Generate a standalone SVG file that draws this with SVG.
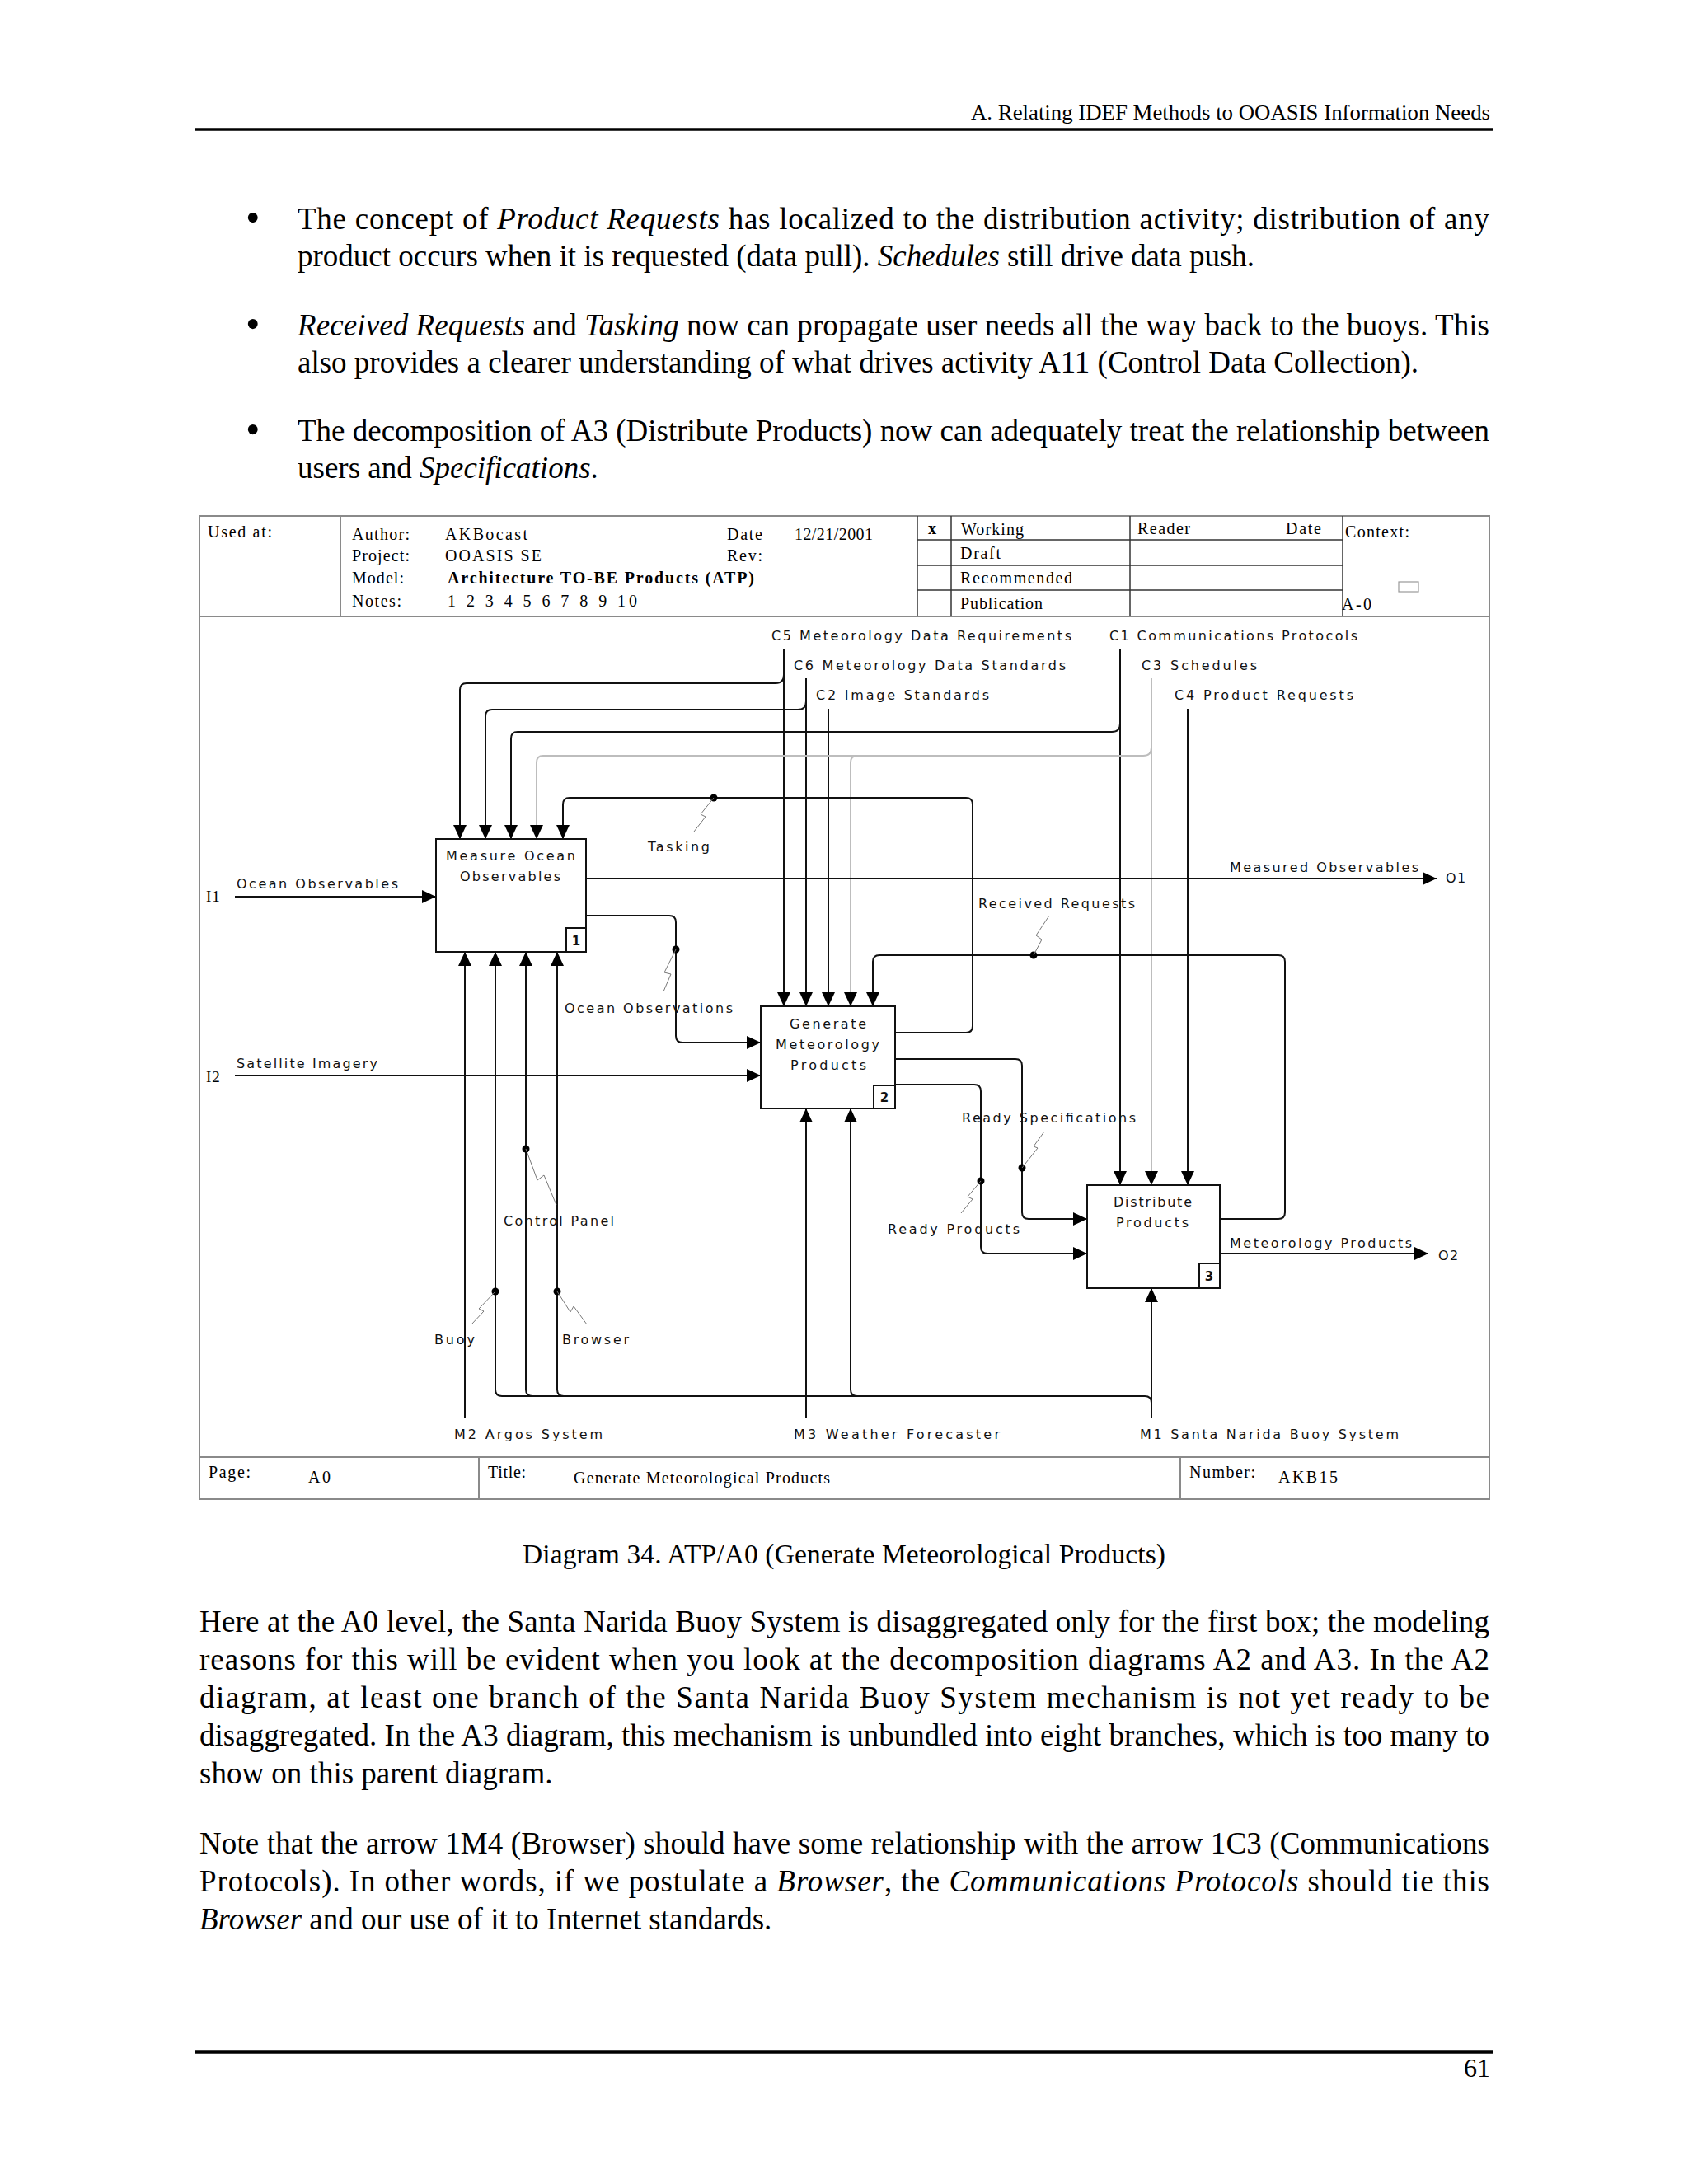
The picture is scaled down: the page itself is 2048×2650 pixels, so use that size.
<svg xmlns="http://www.w3.org/2000/svg" width="2048" height="2650" viewBox="0 0 2048 2650">
<style>
.s{font-family:"Liberation Serif","Times New Roman",serif;fill:#000}
.b{font-size:37px}
.tb{font-size:20px}
.l{font-family:"DejaVu Sans",Verdana,sans-serif;font-size:16px;fill:#111}
.n{font-family:"DejaVu Sans",Verdana,sans-serif;font-size:15px;font-weight:bold;fill:#111}
.c{fill:none;stroke:#111;stroke-width:2}
.g{fill:none;stroke:#bdbdbd;stroke-width:2}
.a{marker-end:url(#ah)}
.sq{fill:none;stroke:#777;stroke-width:1}
.box{fill:#fff;stroke:#111;stroke-width:2}
.fr{fill:none;stroke:#8a8a8a;stroke-width:2}
.gr{fill:none;stroke:#333;stroke-width:1.5}
</style>
<defs>
<marker id="ah" markerUnits="userSpaceOnUse" markerWidth="17" markerHeight="16" refX="17" refY="8" orient="auto"><path d="M0,0 L17,8 L0,16 z" fill="#000"/></marker>
</defs>
<rect width="2048" height="2650" fill="#fff"/>

<g id="page-header">
<text class="s" x="1178" y="145" font-size="26" textLength="630" lengthAdjust="spacingAndGlyphs">A. Relating IDEF Methods to OOASIS Information Needs</text>
<line x1="236" y1="157" x2="1812" y2="157" stroke="#000" stroke-width="3.5"/>
</g>

<g id="bullets" class="s b">
<text x="298" y="281" font-size="50">•</text>
<text x="361" y="278" textLength="1446">The concept of <tspan font-style="italic">Product Requests</tspan> has localized to the distribution activity; distribution of any</text>
<text x="361" y="323">product occurs when it is requested (data pull). <tspan font-style="italic">Schedules</tspan> still drive data push.</text>
<text x="298" y="410" font-size="50">•</text>
<text x="361" y="407" textLength="1446"><tspan font-style="italic">Received Requests</tspan> and <tspan font-style="italic">Tasking</tspan> now can propagate user needs all the way back to the buoys. This</text>
<text x="361" y="452">also provides a clearer understanding of what drives activity A11 (Control Data Collection).</text>
<text x="298" y="538" font-size="50">•</text>
<text x="361" y="535" textLength="1446">The decomposition of A3 (Distribute Products) now can adequately treat the relationship between</text>
<text x="361" y="580">users and <tspan font-style="italic">Specifications</tspan>.</text>
</g>

<g id="frame">
<rect class="fr" x="242" y="626" width="1565" height="1193"/>
<line class="fr" x1="242" y1="748" x2="1807" y2="748"/>
<line class="fr" x1="242" y1="1768" x2="1807" y2="1768"/>
<line class="fr" x1="413" y1="626" x2="413" y2="748"/>
<line class="gr" x1="1113" y1="626" x2="1113" y2="748"/>
<line class="gr" x1="1154" y1="626" x2="1154" y2="748"/>
<line class="gr" x1="1371" y1="626" x2="1371" y2="748"/>
<line class="gr" x1="1629" y1="626" x2="1629" y2="748"/>
<line class="gr" x1="1113" y1="655" x2="1629" y2="655"/>
<line class="gr" x1="1113" y1="686" x2="1629" y2="686"/>
<line class="gr" x1="1113" y1="716" x2="1629" y2="716"/>
<line class="fr" x1="581" y1="1768" x2="581" y2="1819"/>
<line class="fr" x1="1432" y1="1768" x2="1432" y2="1819"/>
<rect x="1697" y="706" width="24" height="12" fill="none" stroke="#999" stroke-width="1.2"/>
</g>

<g id="title-block" class="s tb">
<text x="252" y="652" textLength="78">Used at:</text>
<text x="427" y="655" textLength="70">Author:</text>
<text x="427" y="681" textLength="70">Project:</text>
<text x="427" y="708" textLength="63">Model:</text>
<text x="427" y="736" textLength="60">Notes:</text>
<text x="540" y="655" textLength="100">AKBocast</text>
<text x="540" y="681" textLength="117">OOASIS SE</text>
<text x="543" y="708" font-weight="bold" textLength="372">Architecture TO-BE Products (ATP)</text>
<text x="543" y="736" textLength="230">1 2 3 4 5 6 7 8 9 10</text>
<text x="882" y="655" textLength="43">Date</text>
<text x="882" y="681" textLength="43">Rev:</text>
<text x="964" y="655" textLength="95">12/21/2001</text>
<text x="1126" y="648" font-weight="bold">x</text>
<text x="1166" y="649" textLength="76">Working</text>
<text x="1165" y="678" textLength="49">Draft</text>
<text x="1165" y="708" textLength="136">Recommended</text>
<text x="1165" y="739" textLength="100">Publication</text>
<text x="1380" y="648" textLength="64">Reader</text>
<text x="1560" y="648" textLength="43">Date</text>
<text x="1632" y="652" textLength="78">Context:</text>
<text x="1628" y="740" textLength="36">A-0</text>
<text x="253" y="1793" textLength="51">Page:</text>
<text x="374" y="1799" textLength="27">A0</text>
<text x="592" y="1793" textLength="46">Title:</text>
<text x="696" y="1800" textLength="311">Generate Meteorological Products</text>
<text x="1443" y="1793" textLength="80">Number:</text>
<text x="1551" y="1799" textLength="72">AKB15</text>
</g>

<g id="connectors">
<!-- C5 -->
<path class="c a" d="M951,788 L951,1221"/>
<path class="c a" d="M951,819 Q951,829 941,829 L566,829 Q558,829 558,837 L558,1018"/>
<!-- C6 -->
<path class="c a" d="M978,823 L978,1221"/>
<path class="c a" d="M978,851 Q978,861 968,861 L597,861 Q589,861 589,869 L589,1018"/>
<!-- C2 -->
<path class="c a" d="M1005,860 L1005,1221"/>
<!-- C1 -->
<path class="c a" d="M1359,788 L1359,1438"/>
<path class="c a" d="M1359,878 Q1359,888 1349,888 L628,888 Q620,888 620,896 L620,1018"/>
<!-- C3 (grey) -->
<path class="g a" d="M1397,823 L1397,1438"/>
<path class="g a" d="M1397,907 Q1397,917 1387,917 L659,917 Q651,917 651,925 L651,1018"/>
<path class="g a" d="M1040,917 Q1032,917 1032,925 L1032,1221"/>
<!-- C4 -->
<path class="c a" d="M1441,860 L1441,1438"/>
<!-- Tasking -->
<path class="c a" d="M1086,1253 L1172,1253 Q1180,1253 1180,1245 L1180,976 Q1180,968 1172,968 L691,968 Q683,968 683,976 L683,1018"/>
<circle cx="866" cy="968" r="4.5" fill="#000"/>
<path class="sq" d="M866,968 L850,988 L856,991 L842,1009"/>
<!-- I1, I2 -->
<path class="c a" d="M285,1088 L529,1088"/>
<path class="c a" d="M285,1305 L923,1305"/>
<!-- O1 -->
<path class="c a" d="M711,1066 L1743,1066"/>
<!-- Ocean Observations -->
<path class="c a" d="M711,1111 L812,1111 Q820,1111 820,1119 L820,1257 Q820,1265 828,1265 L923,1265"/>
<circle cx="820" cy="1152" r="4.5" fill="#000"/>
<path class="sq" d="M820,1152 L806,1180 L814,1182 L805,1203"/>
<!-- Received Requests -->
<path class="c a" d="M1480,1479 L1551,1479 Q1559,1479 1559,1471 L1559,1167 Q1559,1159 1551,1159 L1067,1159 Q1059,1159 1059,1167 L1059,1221"/>
<circle cx="1254" cy="1159" r="4.5" fill="#000"/>
<path class="sq" d="M1254,1159 L1264,1140 L1257,1135 L1273,1111"/>
<!-- Ready Specifications -->
<path class="c a" d="M1086,1285 L1232,1285 Q1240,1285 1240,1293 L1240,1471 Q1240,1479 1248,1479 L1319,1479"/>
<circle cx="1240" cy="1417" r="4.5" fill="#000"/>
<path class="sq" d="M1240,1417 L1259,1393 L1254,1391 L1267,1373"/>
<!-- Ready Products -->
<path class="c a" d="M1086,1316 L1182,1316 Q1190,1316 1190,1324 L1190,1513 Q1190,1521 1198,1521 L1319,1521"/>
<circle cx="1190" cy="1433" r="4.5" fill="#000"/>
<path class="sq" d="M1190,1433 L1174,1452 L1180,1455 L1166,1472"/>
<!-- O2 -->
<path class="c a" d="M1480,1521 L1733,1521"/>
<!-- M2 -->
<path class="c a" d="M564,1720 L564,1155"/>
<!-- M3 -->
<path class="c a" d="M978,1720 L978,1345"/>
<!-- M1 and branches -->
<path class="c a" d="M1397,1720 L1397,1563"/>
<path class="c a" d="M1397,1702 Q1397,1694 1389,1694 L609,1694 Q601,1694 601,1686 L601,1155"/>
<path class="c a" d="M646,1694 Q638,1694 638,1686 L638,1155"/>
<path class="c a" d="M684,1694 Q676,1694 676,1686 L676,1155"/>
<path class="c a" d="M1040,1694 Q1032,1694 1032,1686 L1032,1345"/>
<circle cx="601" cy="1567" r="4.5" fill="#000"/>
<circle cx="676" cy="1567" r="4.5" fill="#000"/>
<circle cx="638" cy="1394" r="4.5" fill="#000"/>
<path class="sq" d="M601,1567 L581,1588 L587,1591 L572,1607"/>
<path class="sq" d="M676,1567 L692,1592 L696,1585 L712,1607"/>
<path class="sq" d="M638,1394 L652,1432 L660,1426 L675,1462"/>
</g>

<g id="box1">
<rect class="box" x="529" y="1018" width="182" height="137"/>
<rect class="box" x="687" y="1126" width="24" height="29"/>
<text class="n" x="699" y="1147" text-anchor="middle">1</text>
<text class="l" x="541" y="1044" textLength="157">Measure Ocean</text>
<text class="l" x="558" y="1069" textLength="122">Observables</text>
</g>
<g id="box2">
<rect class="box" x="923" y="1221" width="163" height="124"/>
<rect class="box" x="1060" y="1317" width="26" height="28"/>
<text class="n" x="1073" y="1337" text-anchor="middle">2</text>
<text class="l" x="958" y="1248" textLength="93">Generate</text>
<text class="l" x="941" y="1273" textLength="126">Meteorology</text>
<text class="l" x="959" y="1298" textLength="92">Products</text>
</g>
<g id="box3">
<rect class="box" x="1319" y="1438" width="161" height="125"/>
<rect class="box" x="1455" y="1533" width="25" height="30"/>
<text class="n" x="1467" y="1554" text-anchor="middle">3</text>
<text class="l" x="1351" y="1464" textLength="95">Distribute</text>
<text class="l" x="1354" y="1489" textLength="88">Products</text>
</g>

<g id="labels">
<text class="l" x="936" y="777" textLength="364">C5 Meteorology Data Requirements</text>
<text class="l" x="963" y="813" textLength="330">C6 Meteorology Data Standards</text>
<text class="l" x="990" y="849" textLength="210">C2 Image Standards</text>
<text class="l" x="1346" y="777" textLength="301">C1 Communications Protocols</text>
<text class="l" x="1385" y="813" textLength="140">C3 Schedules</text>
<text class="l" x="1425" y="849" textLength="217">C4 Product Requests</text>
<text class="l" x="786" y="1033" textLength="75">Tasking</text>
<text class="s" x="250" y="1094" font-size="19" letter-spacing="1">I1</text>
<text class="l" x="287" y="1078" textLength="196">Ocean Observables</text>
<text class="l" x="1492" y="1058" textLength="229">Measured Observables</text>
<text class="l" x="1754" y="1071" letter-spacing="1.5">O1</text>
<text class="l" x="1187" y="1102" textLength="190">Received Requests</text>
<text class="l" x="685" y="1229" textLength="204">Ocean Observations</text>
<text class="s" x="250" y="1313" font-size="19" letter-spacing="1">I2</text>
<text class="l" x="287" y="1296" textLength="171">Satellite Imagery</text>
<text class="l" x="1167" y="1362" textLength="211">Ready Specifications</text>
<text class="l" x="611" y="1487" textLength="134">Control Panel</text>
<text class="l" x="1077" y="1497" textLength="160">Ready Products</text>
<text class="l" x="1492" y="1514" textLength="221">Meteorology Products</text>
<text class="l" x="1745" y="1529" letter-spacing="1.5">O2</text>
<text class="l" x="527" y="1631" textLength="49">Buoy</text>
<text class="l" x="682" y="1631" textLength="81">Browser</text>
<text class="l" x="551" y="1746" textLength="180">M2 Argos System</text>
<text class="l" x="963" y="1746" textLength="250">M3 Weather Forecaster</text>
<text class="l" x="1383" y="1746" textLength="314">M1 Santa Narida Buoy System</text>
</g>

<g id="caption-and-text" class="s b">
<text x="634" y="1897" font-size="33.5" textLength="780">Diagram 34. ATP/A0 (Generate Meteorological Products)</text>
<text x="242" y="1980" textLength="1565">Here at the A0 level, the Santa Narida Buoy System is disaggregated only for the first box; the modeling</text>
<text x="242" y="2026" textLength="1565">reasons for this will be evident when you look at the decomposition diagrams A2 and A3. In the A2</text>
<text x="242" y="2072" textLength="1565">diagram, at least one branch of the Santa Narida Buoy System mechanism is not yet ready to be</text>
<text x="242" y="2118" textLength="1565">disaggregated. In the A3 diagram, this mechanism is unbundled into eight branches, which is too many to</text>
<text x="242" y="2164">show on this parent diagram.</text>
<text x="242" y="2249" textLength="1565">Note that the arrow 1M4 (Browser) should have some relationship with the arrow 1C3 (Communications</text>
<text x="242" y="2295" textLength="1565">Protocols). In other words, if we postulate a <tspan font-style="italic">Browser</tspan>, the <tspan font-style="italic">Communications Protocols</tspan> should tie this</text>
<text x="242" y="2341"><tspan font-style="italic">Browser</tspan> and our use of it to Internet standards.</text>
</g>

<g id="page-footer">
<line x1="236" y1="2490" x2="1812" y2="2490" stroke="#000" stroke-width="3.5"/>
<text class="s" x="1808" y="2520" font-size="32" text-anchor="end">61</text>
</g>
</svg>
